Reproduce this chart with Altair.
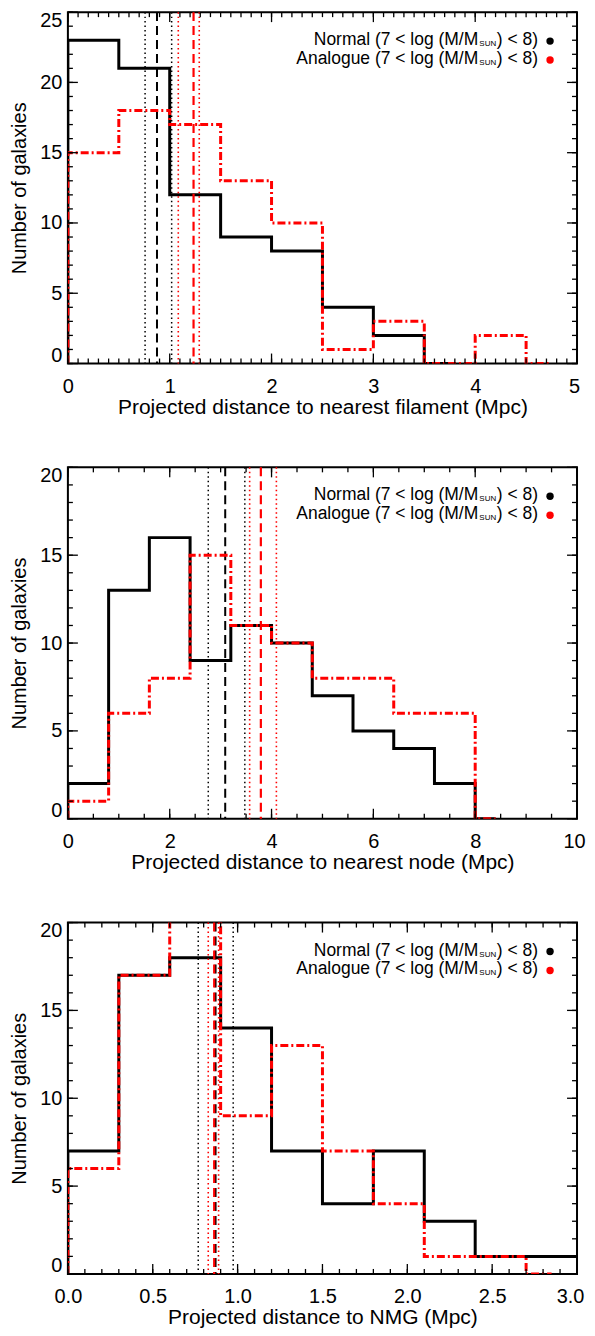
import altair as alt
import pandas as pd

FONT = "Liberation Sans"
RED = "#ff0000"

# ---------------- Panel 1: distance to nearest filament ----------------
p1_edges_normal = [0.0, 0.5, 1.0, 1.5, 2.0, 2.5, 3.0, 3.5]
p1_counts_normal = [23, 21, 12, 9, 8, 4, 2, 0]
p1_end_normal = 3.75
p1_edges_analogue = [0.0, 0.5, 1.0, 1.5, 2.0, 2.5, 3.0, 3.5, 4.0, 4.5]
p1_counts_analogue = [15, 18, 17, 13, 10, 1, 3, 0, 2, 0]
p1_end_analogue = 4.75
p1_normal_dotted = [0.758, 1.019]
p1_normal_dashed = [0.875]
p1_analogue_dotted = [1.084, 1.29]
p1_analogue_dashed = [1.234]
p1_xmajor = [0, 1, 2, 3, 4, 5]
p1_ymajor = [0, 5, 10, 15, 20, 25]

# ---------------- Panel 2: distance to nearest node ----------------
p2_edges = [0.0, 0.8, 1.6, 2.4, 3.2, 4.0, 4.8, 5.6, 6.4, 7.2, 8.0]
p2_counts_normal = [2, 13, 16, 9, 11, 10, 7, 5, 4, 2, 0]
p2_end_normal = 8.4
p2_counts_analogue = [1, 6, 8, 15, 11, 10, 8, 8, 6, 6, 0]
p2_end_analogue = 8.4
p2_normal_dotted = [2.757, 3.475]
p2_normal_dashed = [3.09]
p2_analogue_dotted = [3.57, 4.095]
p2_analogue_dashed = [3.79]
p2_xmajor = [0, 2, 4, 6, 8, 10]
p2_ymajor = [0, 5, 10, 15, 20]

# ---------------- Panel 3: distance to NMG ----------------
p3_edges = [0.0, 0.3, 0.6, 0.9, 1.2, 1.5, 1.8, 2.1, 2.4, 2.7]
p3_counts_normal = [7, 17, 18, 14, 7, 4, 7, 3, 1, 1]
p3_end_normal = 3.0
p3_counts_analogue = [6, 17, 21, 9, 13, 7, 4, 1, 1, 0]
p3_end_analogue = 2.85
p3_normal_dotted = [0.768, 0.974]
p3_normal_dashed = [0.87]
p3_analogue_dotted = [0.827, 0.888]
p3_analogue_dashed = [0.862]
p3_xmajor = [0.0, 0.5, 1.0, 1.5, 2.0, 2.5, 3.0]
p3_ymajor = [0, 5, 10, 15, 20]

LEGEND_NORMAL = "Normal (7 < log (M/M"
LEGEND_ANALOGUE = "Analogue (7 < log (M/M"
LEGEND_SUB = "SUN"
LEGEND_TAIL = ") < 8)"

W = 510
H = 352


def minor_ticks(lo, hi, step):
    n = int(round((hi - lo) / step))
    return [round(lo + i * step, 4) for i in range(n + 1)]


def step_df(edges, counts, end):
    xs = [edges[0]] + list(edges) + [end]
    ys = [0] + list(counts) + [counts[-1]]
    return pd.DataFrame({"x": xs, "y": ys, "o": list(range(len(xs)))})


def panel(edges_n, counts_n, end_n, edges_a, counts_a, end_a,
          n_dot, n_dash, a_dot, a_dash,
          xdom, ydom, xmajor, ymajor, xminor_step, yminor_step, xtitle, xfmt):
    xs = alt.Scale(domain=xdom, nice=False, zero=False)
    ys = alt.Scale(domain=ydom, nice=False, zero=False)
    last = xmajor[-1]
    xaxis = alt.Axis(values=xmajor, title=xtitle, format=xfmt, grid=False,
                     ticks=False, domain=False, titleFontSize=21,
                     labelOffset={"condition": {"test": f"datum.value >= {last}",
                                                "value": -7 if last == 3.0 else -3},
                                  "value": 0},
                     labelFlush=False, labelPadding=13, titlePadding=0)
    yaxis = alt.Axis(values=ymajor, title="Number of galaxies", grid=False,
                     ticks=False, domain=False,
                     format="d", labelFlush=True, labelFlushOffset=2,
                     labelPadding=6, titlePadding=10)

    def X(f):
        return alt.X(f, scale=xs, axis=xaxis)

    def Y(f):
        return alt.Y(f, scale=ys, axis=yaxis)

    layers = []

    def vlines(vals, color, dash, width):
        return alt.Chart(pd.DataFrame({"v": vals})).mark_rule(
            color=color, strokeDash=dash, strokeWidth=width
        ).encode(x=X("v:Q"))

    normal = alt.Chart(step_df(edges_n, counts_n, end_n)).mark_line(
        interpolate="step-after", color="black", strokeWidth=3, clip=True
    ).encode(x=X("x:Q"), y=Y("y:Q"), order="o:Q")
    analogue = alt.Chart(step_df(edges_a, counts_a, end_a)).mark_line(
        interpolate="step-after", color=RED, strokeWidth=3,
        strokeDash=[8, 3, 2, 3], clip=True
    ).encode(x=X("x:Q"), y=Y("y:Q"), order="o:Q")

    layers.append(normal)
    layers.append(vlines(n_dot, "black", [1.5, 3], 1.5))
    layers.append(vlines(n_dash, "black", [9, 5], 2))
    layers.append(vlines(a_dot, RED, [1.5, 3], 1.6))
    layers.append(vlines(a_dash, RED, [9, 5], 2.2))
    layers.append(analogue)

    # inward ticks on all four sides
    xmin_vals = minor_ticks(xdom[0], xdom[1], xminor_step)
    ymin_vals = minor_ticks(ydom[0], ydom[1], yminor_step)
    for vals, length in ((xmajor, 10), (xmin_vals, 5)):
        d = pd.DataFrame({"v": vals})
        layers.append(alt.Chart(d).mark_rule(color="black", strokeWidth=1.3).encode(
            x=X("v:Q"), y=alt.value(H), y2=alt.value(H - length)))
        layers.append(alt.Chart(d).mark_rule(color="black", strokeWidth=1.3).encode(
            x=X("v:Q"), y=alt.value(0), y2=alt.value(length)))
    for vals, length in ((ymajor, 10), (ymin_vals, 5)):
        d = pd.DataFrame({"v": vals})
        layers.append(alt.Chart(d).mark_rule(color="black", strokeWidth=1.3).encode(
            y=Y("v:Q"), x=alt.value(0), x2=alt.value(length)))
        layers.append(alt.Chart(d).mark_rule(color="black", strokeWidth=1.3).encode(
            y=Y("v:Q"), x=alt.value(W), x2=alt.value(W - length)))

    # legend
    x_end = 471
    fs = 17.5
    tail_w = 42
    sub_w = 18
    for label, color, yc in ((LEGEND_NORMAL, "black", 28), (LEGEND_ANALOGUE, RED, 47)):
        d = pd.DataFrame({"t": [label], "s": [LEGEND_SUB], "e": [LEGEND_TAIL]})
        base = alt.Chart(d)
        layers.append(base.mark_text(align="right", baseline="middle", font=FONT,
                                     fontSize=fs, color="black").encode(
            x=alt.value(x_end), y=alt.value(yc), text="e:N"))
        layers.append(base.mark_text(align="right", baseline="middle", font=FONT,
                                     fontSize=8, color="black").encode(
            x=alt.value(x_end - tail_w), y=alt.value(yc + 4), text="s:N"))
        layers.append(base.mark_text(align="right", baseline="middle", font=FONT,
                                     fontSize=fs, color="black").encode(
            x=alt.value(x_end - tail_w - sub_w), y=alt.value(yc), text="t:N"))
        layers.append(base.mark_circle(size=55, color=color, opacity=1).encode(
            x=alt.value(x_end + 12), y=alt.value(yc + 1)))

    return alt.layer(*layers).properties(width=W, height=H)


c1 = panel(p1_edges_normal, p1_counts_normal, p1_end_normal,
           p1_edges_analogue, p1_counts_analogue, p1_end_analogue,
           p1_normal_dotted, p1_normal_dashed, p1_analogue_dotted, p1_analogue_dashed,
           [0, 5], [0, 25], p1_xmajor, p1_ymajor, 0.1, 1,
           "Projected distance to nearest filament (Mpc)", "d")
c2 = panel(p2_edges, p2_counts_normal, p2_end_normal,
           p2_edges, p2_counts_analogue, p2_end_analogue,
           p2_normal_dotted, p2_normal_dashed, p2_analogue_dotted, p2_analogue_dashed,
           [0, 10], [0, 20], p2_xmajor, p2_ymajor, 0.5, 1,
           "Projected distance to nearest node (Mpc)", "d")
c3 = panel(p3_edges, p3_counts_normal, p3_end_normal,
           p3_edges, p3_counts_analogue, p3_end_analogue,
           p3_normal_dotted, p3_normal_dashed, p3_analogue_dotted, p3_analogue_dashed,
           [0, 3], [0, 20], p3_xmajor, p3_ymajor, 0.1, 1,
           "Projected distance to NMG (Mpc)", ".1f")

chart = alt.vconcat(c1, c2, c3, spacing=46).properties(
    padding={"left": 0, "top": 0, "right": 0, "bottom": 0},
    background="white",
).configure_view(
    stroke="black", strokeWidth=2
).configure_axis(
    grid=False, ticks=False, domain=False,
    labelFont=FONT, labelFontSize=20, labelColor="black",
    titleFont=FONT, titleFontSize=20, titleFontWeight="normal", titleColor="black",
)

chart.save("out.html", embed_options={"renderer": "svg", "actions": False})
